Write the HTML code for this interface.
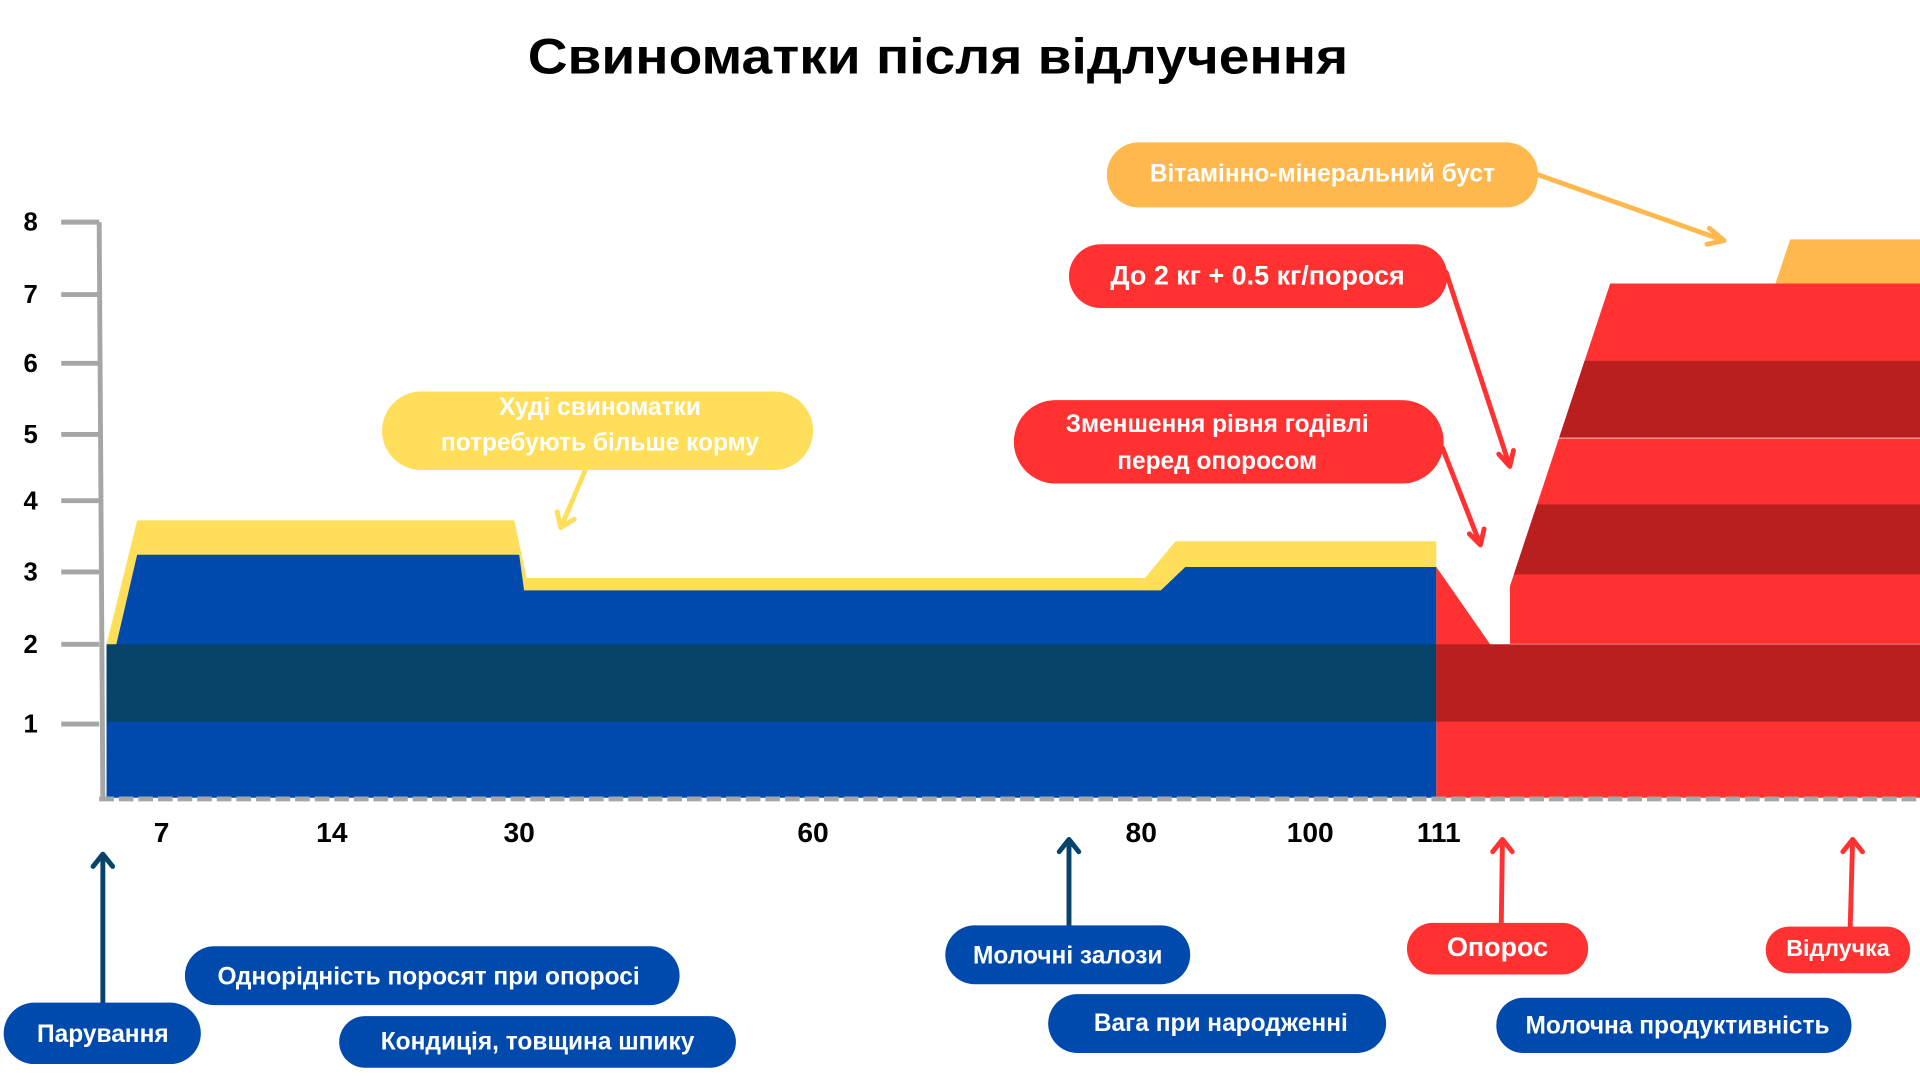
<!DOCTYPE html>
<html><head><meta charset="utf-8"><style>
html,body{margin:0;padding:0;background:#fff;width:1920px;height:1080px;overflow:hidden}
svg{display:block}
text{font-family:"Liberation Sans","DejaVu Sans",sans-serif;font-weight:bold}
</style></head><body>
<svg width="1920" height="1080" viewBox="0 0 1568 880" preserveAspectRatio="none">
<text x="766" y="60" font-size="41" text-anchor="middle" fill="#000" textLength="670" lengthAdjust="spacingAndGlyphs">Свиноматки після відлучення</text>
<polygon points="87,525 112,424 420,424 430,471 935,471 960,441 1173,441 1173,525" fill="#ffde59"/>
<polygon points="95,525 112,452 424,452 428,481 948,481 968,462 1173,462 1173,650 87,650 87,525" fill="#004aad"/>
<rect x="87" y="525" width="1086" height="63" fill="#08436a"/>
<polygon points="1173,462 1217,525 1568,525 1568,650 1173,650" fill="#ff3131"/>
<rect x="1173" y="525" width="395" height="63" fill="#b91f1f"/>
<polygon points="1450,231 1462,195 1568,195 1568,231" fill="#ffb84d"/>
<defs><clipPath id="c"><polygon points="1233,525 1233,478 1315,231 1568,231 1568,525"/></clipPath></defs>
<g clip-path="url(#c)">
<rect x="1230" y="231" width="340" height="294" fill="#ff3131"/>
<rect x="1230" y="294" width="340" height="63" fill="#b91f1f"/>
<rect x="1230" y="411" width="340" height="57" fill="#b91f1f"/>
<line x1="1230" y1="357" x2="1568" y2="357" stroke="#fff" stroke-width="1" opacity=".6"/>
<line x1="1230" y1="525" x2="1568" y2="525" stroke="#fff" stroke-width="1" opacity=".6"/>
</g>
<g stroke="#a6a6a6" stroke-width="4">
<line x1="81" y1="181" x2="84" y2="652"/>
<line x1="50" y1="181" x2="81" y2="181"/><line x1="50" y1="240" x2="81" y2="240"/>
<line x1="50" y1="296" x2="81" y2="296"/><line x1="50" y1="354" x2="81" y2="354"/>
<line x1="50" y1="408" x2="81" y2="408"/><line x1="50" y1="466" x2="81" y2="466"/>
<line x1="50" y1="525" x2="81" y2="525"/><line x1="50" y1="590" x2="81" y2="590"/>
<line x1="81" y1="651" x2="1568" y2="651" stroke-dasharray="12,4"/>
</g>
<g font-size="21" fill="#000" text-anchor="middle">
<text x="25" y="188">8</text><text x="25" y="247">7</text><text x="25" y="303">6</text>
<text x="25" y="361">5</text><text x="25" y="415">4</text><text x="25" y="473">3</text>
<text x="25" y="532">2</text><text x="25" y="597">1</text>
</g>
<g font-size="23" fill="#000" text-anchor="middle">
<text x="132" y="686">7</text><text x="271" y="686">14</text><text x="424" y="686">30</text>
<text x="664" y="686">60</text><text x="932" y="686">80</text><text x="1070" y="686">100</text><text x="1175" y="686">111</text>
</g>
<g stroke-width="4" fill="none" stroke-linecap="round" stroke-linejoin="round">
<path d="M84,820 V696 M76,706 L84,696 L92,706" stroke="#08436a"/>
<path d="M873,765 V684 M865,694 L873,684 L881,694" stroke="#08436a"/>
<path d="M1226,755 L1227,684 M1219,694 L1227,684 L1235,694" stroke="#ff3131"/>
<path d="M1511,755 L1513,684 M1505,694 L1513,684 L1521,694" stroke="#ff3131"/>
<path d="M478,383 L458,430 M455,417 L458,430 L469,423" stroke="#ffde59"/>
<path d="M1255,142 L1408,196 M1396,186 L1408,196 L1394,199" stroke="#ffb84d"/>
<path d="M1181,222 L1233,380 M1224,370 L1233,380 L1236,367" stroke="#ff3131"/>
<path d="M1178,365 L1209,444 M1200,435 L1209,444 L1212,431" stroke="#ff3131"/>
</g>
<rect x="904" y="116" width="352" height="53" rx="26" fill="#ffb84d"/>
<text x="1080" y="148" font-size="20" fill="#fff" text-anchor="middle">Вітамінно-мінеральний буст</text>
<rect x="873" y="199" width="309" height="52" rx="26" fill="#ff3131"/>
<text x="1027" y="232" font-size="22" fill="#fff" text-anchor="middle">До 2 кг + 0.5 кг/порося</text>
<rect x="828" y="326" width="351" height="68" rx="34" fill="#ff3131"/>
<text x="994" y="352" font-size="20" fill="#fff" text-anchor="middle">Зменшення рівня годівлі</text>
<text x="994" y="382" font-size="20" fill="#fff" text-anchor="middle">перед опоросом</text>
<rect x="312" y="319" width="352" height="64" rx="32" fill="#ffde59"/>
<text x="490" y="338" font-size="20" fill="#fff" text-anchor="middle">Худі свиноматки</text>
<text x="490" y="367" font-size="20" fill="#fff" text-anchor="middle">потребують більше корму</text>
<g fill="#004aad">
<rect x="3" y="817" width="161" height="50" rx="25"/>
<rect x="151" y="771" width="404" height="48" rx="24"/>
<rect x="277" y="828" width="324" height="42" rx="21"/>
<rect x="772" y="754" width="200" height="48" rx="24"/>
<rect x="856" y="810" width="276" height="48" rx="24"/>
<rect x="1222" y="813" width="290" height="45" rx="22"/>
</g>
<g font-size="20" fill="#fff" text-anchor="middle">
<text x="84" y="849">Парування</text>
<text x="350" y="802">Однорідність поросят при опоросі</text>
<text x="439" y="855">Кондиція, товщина шпику</text>
<text x="872" y="785">Молочні залози</text>
<text x="997" y="840">Вага при народженні</text>
<text x="1370" y="842">Молочна продуктивність</text>
</g>
<rect x="1149" y="752" width="148" height="42" rx="21" fill="#ff3131"/>
<text x="1223" y="779" font-size="22" fill="#fff" text-anchor="middle">Опорос</text>
<rect x="1442" y="755" width="118" height="38" rx="19" fill="#ff3131"/>
<text x="1501" y="779" font-size="19" fill="#fff" text-anchor="middle">Відлучка</text>
</svg>
</body></html>
